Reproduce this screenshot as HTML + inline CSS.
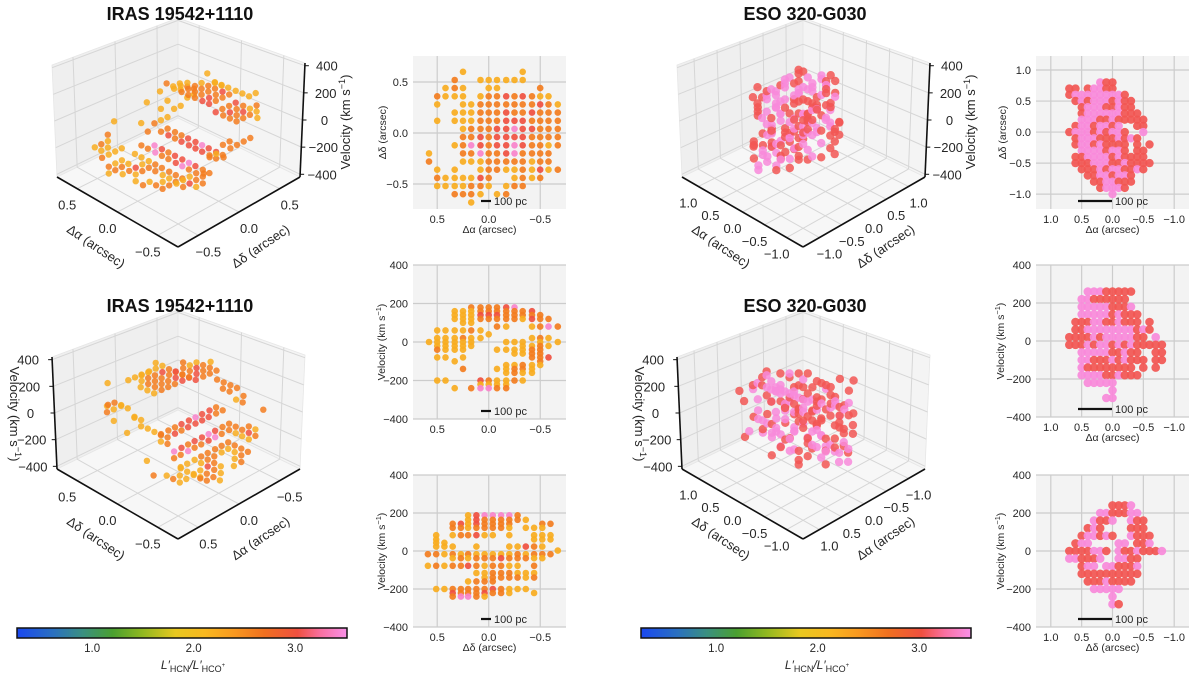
<!DOCTYPE html>
<html><head><meta charset="utf-8"><title>HCN/HCO+ ratio cubes</title>
<style>
html,body{margin:0;padding:0;background:#fff;}
svg{display:block;font-family:"Liberation Sans","DejaVu Sans",sans-serif;}
</style></head>
<body>
<svg id="fig" width="1200" height="677" viewBox="0 0 1200 677">
<defs>
<linearGradient id="cbgrad" x1="0" x2="1" y1="0" y2="0">
<stop offset="0" stop-color="#1a48f0"/><stop offset="0.11" stop-color="#2a70c0"/>
<stop offset="0.2" stop-color="#3a9080"/><stop offset="0.29" stop-color="#4aa030"/>
<stop offset="0.38" stop-color="#90b820"/><stop offset="0.48" stop-color="#e8c820"/>
<stop offset="0.57" stop-color="#f8b820"/><stop offset="0.66" stop-color="#f89820"/>
<stop offset="0.75" stop-color="#f07020"/><stop offset="0.85" stop-color="#f05040"/>
<stop offset="0.92" stop-color="#f870a0"/><stop offset="1" stop-color="#f890e8"/>
</linearGradient>
</defs>
</svg>
<script>
// ---------- colormap ----------
const cmapValues = [0.25,0.6,0.9,1.2,1.5,1.8,2.1,2.4,2.7,3.0,3.25,3.5];
const cmapColors = ['#1a48f0','#2a70c0','#3a9080','#4aa030','#90b820','#e8c820','#f8b820','#f89820','#f07020','#f05040','#f870a0','#f890e8'];

// ---------- IRAS 19542+1110 data ----------
const irasCodes = ['o','d','r','p'];
const irasRatios = [2.2,2.6,3.0,3.4];
const irasMapAlpha = [0.58,0.5,0.42,0.33,0.25,0.17,0.08,0.0,-0.08,-0.17,-0.25,-0.33,-0.42,-0.5,-0.58,-0.67];
const irasMapDelta = [0.6,0.52,0.44,0.36,0.28,0.2,0.12,0.04,-0.04,-0.12,-0.2,-0.28,-0.36,-0.44,-0.52,-0.6,-0.68];
const irasMapRows = [
"....o......o....",
"...d..oooooo....",
"..odo..oo....d..",
".dooo.oddrdrdoo.",
".o..oodddddddrdo",
"...ooodddrddrddd",
".o.ooodddrrrdddd",
"....odddrrprrddd",
"....ddrdrrrrdddd",
"...odprdrrprddod",
"o...ddpddrpdddd.",
"d...ooodddddodd.",
".o.o..oddoodorod",
".doooord..odod..",
".ooooddo.odd....",
"...dddo.od......",
".....o.........."];
const irasVelCodes = ['a','b','c','d','e','f','g','h','i','j','k'];
const irasVelValues = [180,140,100,60,20,-20,-60,-100,-140,-180,-220];
const irasVelRows = [
"eeeebbbbbbbbbbbb",
"eeeebbbbbbbbbbbb",
"ddddeaaaaaabbbbb",
"ddddeaaaaaabbbbb",
"eeeefaaaaaabbbbb",
"eeeefaaaaaabbbbe",
"ffffgaaaaaabbbbe",
"ffffghhhhhhhhhee",
"ggggghhhhhhhhhee",
"gggghjjjjjjjjjff",
"hhhhjjjjjjjjjjff",
"jjjjkkkkkkkkjjjg",
"jjjjkkkkkkkkjjjg",
"jjjjkkkkkkkkjjjg",
"jjjjkkkkkkkkjjjg",
"jjjjkkkkkkkkjjjg",
"jjjjkkkkkkkkjjjg"];
const irasPvAlpha = [0.58,0.5,0.42,0.33,0.25,0.17,0.08,0.0,-0.08,-0.17,-0.25,-0.33,-0.42,-0.5,-0.58,-0.67];
const irasPvVel = [180,160,140,120,100,80,60,40,20,0,-20,-40,-60,-80,-100,-120,-140,-160,-200,-220,-240];
const irasPvRows = [
".....ddddrp.....",
"...oooddddddr...",
"...ooorrrddddd..",
"...ooodddddordd.",
"....oo..........",
"........do..odpd",
".oooodo.........",
".......o........",
".ooodoo.....odo.",
"oooooo...ooo.o.o",
".ooooo.....oodo.",
".dooo...oooodd..",
"..........oodd..",
".oo.o.......ddr.",
"...o.........d..",
".........oodoo..",
"....d...ooddo...",
".........odoo...",
".oo...rdoodo....",
"......oooo......",
"...o.dppdd......"];
const irasPdDelta = [0.59,0.51,0.43,0.35,0.27,0.2,0.12,0.04,-0.04,-0.12,-0.2,-0.28,-0.36,-0.44,-0.52,-0.6,-0.67];
const irasPdVel = [188,164,143,122,83,61,43,23,2,-17,-38,-78,-116,-140,-160,-200,-221,-240];
const irasPdRows = [
".....orppppd.....",
".....ordddddo....",
"...drordddd...dd.",
"...ddoddddo.ooo..",
".o.oddroo.o..ooo.",
".o...........ooo.",
".oo..............",
".ooo..o...oordo..",
"................o",
"ddododooooododdd.",
"...ododddrdddoo..",
"ododdrdoddoo.d...",
"......oodddooo...",
".......oddddod...",
".....oddd........",
".oodddddrdooo....",
"...rdddrddo..o...",
"...dppdo........."];

// ---------- ESO 320-G030 data ----------
const esoCodes = ['r','p'];
const esoRatios = [3.05,3.45];
const esoMapAlpha = [0.8,0.7,0.6,0.5,0.4,0.3,0.2,0.1,0.0,-0.1,-0.2,-0.3,-0.4,-0.5,-0.6,-0.7,-0.8];
const esoMapDelta = [0.8,0.7,0.6,0.5,0.4,0.3,0.2,0.1,0.0,-0.1,-0.2,-0.3,-0.4,-0.5,-0.6,-0.7,-0.8,-0.9,-1.0];
const esoMapRows = [
"......prr........",
".rr.rpprr........",
".rppppppppr......",
"..rprppprprr.....",
"...rppprrprr.....",
"...rpppppprrr....",
"...ppprrprrrrr...",
"..rpprpprp..rr...",
".rppprprppr..p...",
"..rppprrrprpr....",
"..rpprprrrr.r.r..",
"...pppprppr.rr...",
"..rrpppprprrrr...",
"..rrrppprrprrrr..",
"...rrrprpprrpr...",
"....rrpprppr.....",
".....rrpprrr.....",
"......rpppr......",
"........p........"];
const esoVelCodes = ['a','b','c','d','e','f','g','h','i'];
const esoVelValues = [240,180,120,60,0,-60,-120,-180,-240];
const esoVelRows = [
"bagbhafbgahbfgabh",
"gbhafbgahbfgabhag",
"acgbfhabgcfbhagbf",
"fbacgbhcafbgdhbaf",
"bgcafhbdgacfbhgab",
"hafbcgbfdhacgbfha",
"cbgafbhcgbdafhcbg",
"gfbahcbgfadhbgcfb",
"bhcfagbdfhbgacfgb",
"fcgbhadfbgchbfagd",
"agbfchbgdfahcbgfh",
"hbfgacbhfgdbcagfb",
"cgahbfgcbhafdgbhc",
"gbhcfagbhdcfgbahf",
"fhbgcahfgbdhcfgbh",
"bgfhacgbfhgdbhcfg",
"hcgbfhagcbhfgdbhf",
"gfhbcgfhbgcfhbgfh",
"hgfbhgcfhgbfhgcfg"];
const esoPvAlpha = [0.8,0.7,0.6,0.5,0.4,0.3,0.2,0.1,0.0,-0.1,-0.2,-0.3,-0.4,-0.5,-0.6,-0.7,-0.8];
const esoPvVel = [260,220,180,140,100,60,20,-20,-60,-100,-140,-180,-220,-260,-300];
const esoPvRows = [
"....ppprrrrr.....",
"...pprrrrrr......",
"...ppppprrrp.....",
"...ppppprprrr....",
"..rrrpprrprrr.r..",
"..rrpppppppprpr..",
".rrrrprppppprr.p.",
".rrrprpprprprrrrr",
"...ppppprrprr..rr",
"...pprrrprprrr.rr",
"...prrrrrrrr.r.r.",
"...pppprrprrr....",
"....ppppp........",
"........p........",
".......pp........"];
const esoPdDelta = [0.8,0.7,0.6,0.5,0.4,0.3,0.2,0.1,0.0,-0.1,-0.2,-0.3,-0.4,-0.5,-0.6,-0.7,-0.8,-0.9];
const esoPdVel = [240,200,160,120,80,40,0,-40,-80,-120,-160,-200,-240,-280];
const esoPdRows = [
"........rrrp......",
"......pprrrpp.....",
".....prrp..prr....",
"....rpr....rrr....",
"...rpprpr..prrr...",
"..rpp....pp.rrp...",
".rrrrppr.prrprrrp.",
".pprrrp..pprr.....",
"...rpp.pprrrp.....",
"...rrrrrrrrrr.....",
"....rrrprrrr......",
".....ppppp........",
"........p.........",
"........pr........"];

// ---------- tick label arrays ----------
const irasPosTicks = [0.5,0.0,-0.5];
const esoPosTicks = [1.0,0.5,0.0,-0.5,-1.0];
const velTicks = [400,200,0,-200,-400];
const cbTicks = [1.0,2.0,3.0];

// ---------- helpers ----------
const NS='http://www.w3.org/2000/svg';
const svg=document.getElementById('fig');
function mk(tag,parent){const e=document.createElementNS(NS,tag);parent.appendChild(e);return e;}
function at(e,o){for(const k in o)e.setAttribute(k,o[k]);return e;}
function hex(h){return [parseInt(h.slice(1,3),16),parseInt(h.slice(3,5),16),parseInt(h.slice(5,7),16)];}
function cmap(v){
  if(v<=cmapValues[0])return cmapColors[0];
  for(let i=1;i<cmapValues.length;i++){
    if(v<=cmapValues[i]){const f=(v-cmapValues[i-1])/(cmapValues[i]-cmapValues[i-1]);
      const a=hex(cmapColors[i-1]),b=hex(cmapColors[i]);
      return 'rgb('+a.map((x,k)=>Math.round(x+(b[k]-x)*f)).join(',')+')';}
  }
  return cmapColors[cmapColors.length-1];
}
function fmtPos(n){return n===0?'0.0':(n<0?'\u2212':'')+Math.abs(n).toFixed(1);}
function fmtVel(n){return (n<0?'\u2212':'')+Math.abs(n);}
function gridPts(rows,xs,ys,codes,ratios){
  const out=[];
  rows.forEach((row,i)=>{for(let j=0;j<row.length;j++){const k=codes.indexOf(row[j]);
    if(k>=0&&j<xs.length)out.push({x:xs[j],y:ys[i],r:ratios[k],i:i,j:j});}});
  return out;
}
function text(parent,str,x,y,opt){
  const t=mk('text',parent);
  at(t,{x:x,y:y,'font-size':opt.size||11,fill:opt.fill||'#262626','text-anchor':opt.anchor||'middle'});
  if(opt.weight)t.setAttribute('font-weight',opt.weight);
  if(opt.rot!==undefined)t.setAttribute('transform','rotate('+opt.rot+' '+x+' '+y+')');
  t.textContent=str;return t;
}
function velTitle(parent,x,y,size,rot){
  const t=mk('text',parent);
  at(t,{x:x,y:y,'font-size':size,fill:'#262626','text-anchor':'middle',transform:'rotate('+rot+' '+x+' '+y+')'});
  t.appendChild(document.createTextNode('Velocity (km s'));
  const s=mk('tspan',t);at(s,{'baseline-shift':'super','font-size':size*0.7});s.textContent='\u22121';
  const s2=mk('tspan',t);s2.textContent=')';
  return t;
}

// ---------- 2D panel ----------
function panel2D(name,P,pts,rad){
  const g=mk('g',svg);
  
  
  const sx=v=>P.x0+(P.xl-v)/(P.xl-P.xr)*(P.x1-P.x0);
  const sy=v=>P.y0+(P.yt-v)/(P.yt-P.yb)*(P.y1-P.y0);
  const bg=mk('rect',g);
  at(bg,{x:P.x0,y:P.y0,width:P.x1-P.x0,height:P.y1-P.y0,fill:'#f3f3f3'});
  
  
  P.xticks.forEach(v=>{const l=mk('line',g);at(l,{x1:sx(v),x2:sx(v),y1:P.y0,y2:P.y1,stroke:'#cccccc','stroke-width':1.2});
    
    
    const t=text(g,fmtPos(v),sx(v),P.y1+14,{size:11});
    
    });
  P.yticks.forEach(v=>{const l=mk('line',g);at(l,{x1:P.x0,x2:P.x1,y1:sy(v),y2:sy(v),stroke:'#cccccc','stroke-width':1.2});
    
    
    const t=text(g,P.yfmt(v),P.x0-5,sy(v)+4,{size:11,anchor:'end'});
    
    });
  pts.forEach(p=>{const c=mk('circle',g);at(c,{cx:sx(p.x).toFixed(1),cy:sy(p.y).toFixed(1),r:rad,fill:cmap(p.r),'fill-opacity':0.92});
    
    });
  const sb=mk('line',g);at(sb,{x1:P.sb[0],x2:P.sb[1],y1:P.y1-8,y2:P.y1-8,stroke:'#111','stroke-width':2.2});
  
  
  const st=text(g,'100 pc',P.sb[1]+3,P.y1-4,{size:11,anchor:'start'});
  
  
  if(P.xtitle){const t=text(g,P.xtitle,(P.x0+P.x1)/2,P.y1+24,{size:10.5});
    
    }
  let yt;
  if(P.ytitle==='vel')yt=velTitle(g,P.ytx,(P.y0+P.y1)/2,10.5,-90);
  else yt=text(g,P.ytitle,P.ytx,(P.y0+P.y1)/2,{size:10.5,rot:-90});
  
  
}

// ---------- 3D panel ----------
const baseL=[57,177],baseF=[178,247],baseR=[300,177],baseB=[178,118];
const topL=[52,65],topF=[178,123],topR=[305,63],topB=[178,18];
function bil(A,Bq,C,D,s,t){return [A[0]*(1-s)*(1-t)+Bq[0]*s*(1-t)+C[0]*s*t+D[0]*(1-s)*t, A[1]*(1-s)*(1-t)+Bq[1]*s*(1-t)+C[1]*s*t+D[1]*(1-s)*t];}
function proj(ox,oy,s,t,c){const f=bil(baseL,baseF,baseR,baseB,s,t),u=bil(topL,topF,topR,topB,s,t);
  return [ox+f[0]+(u[0]-f[0])*c, oy+f[1]+(u[1]-f[1])*c];}
function panel3D(name,o){
  const g=mk('g',svg);
  
  
  const P=(s,t,c)=>proj(o.ox,o.oy,s,t,c);
  const poly=(pts,fill,nm)=>{const p=mk('polygon',g);at(p,{points:pts.map(q=>q.map(v=>v.toFixed(1)).join(',')).join(' '),fill:fill,stroke:'#e6e6e6','stroke-width':0.8});
    
    };
  poly([P(0,0,0),P(0,1,0),P(0,1,1),P(0,0,1)],'#efefef','left-pane');
  poly([P(0,1,0),P(1,1,0),P(1,1,1),P(0,1,1)],'#f4f4f4','right-pane');
  poly([P(0,0,0),P(1,0,0),P(1,1,0),P(0,1,0)],'#f7f7f7','floor-pane');
  const A=o.A, vc=v=>(v+420)/840;
  const gl=(a,b,nm)=>{const l=mk('line',g);at(l,{x1:a[0],y1:a[1],x2:b[0],y2:b[1],stroke:'#d6d6d6','stroke-width':1});
    
    };
  const sOf=v=>(A-v)/(2*A);
  const tOf=v=>o.tPos?(v+A)/(2*A):(A-v)/(2*A);
  o.ticks.forEach(v=>{const s=sOf(v),t=tOf(v);
    gl(P(s,0,0),P(s,1,0),'floor-gridline');gl(P(s,1,0),P(s,1,1),'wall-gridline');
    gl(P(0,t,0),P(1,t,0),'floor-gridline');gl(P(0,t,0),P(0,t,1),'wall-gridline');});
  velTicks.forEach(v=>{const c=vc(v);gl(P(0,0,c),P(0,1,c),'wall-gridline');gl(P(0,1,c),P(1,1,c),'wall-gridline');});
  const pts=o.pts.map(p=>{const s=sOf(p.a1),t=tOf(p.a2);return {s:s,t:t,c:vc(p.v),r:p.r};})
    .sort((a,b)=>(a.s+a.t)-(b.s+b.t));
  pts.forEach(p=>{const q=P(p.s,p.t,p.c);const c=mk('circle',g);
    at(c,{cx:q[0].toFixed(1),cy:q[1].toFixed(1),r:o.rad,fill:cmap(p.r),'fill-opacity':0.85});
    
    });
  const ax=(a,b,nm)=>{const l=mk('line',g);at(l,{x1:a[0],y1:a[1],x2:b[0],y2:b[1],stroke:'#111','stroke-width':1.6});
    
    };
  ax(P(0,0,0),P(1,0,0),'axis1-line');ax(P(1,0,0),P(1,1,0),'axis2-line');
  if(o.zAtLeft)ax(P(0,0,0),P(0,0,1),'velocity-axis-line');
  else ax(P(1,1,0),P(1,1,1),'velocity-axis-line');
  o.ticks.forEach(v=>{
    const a=P(sOf(v),0,0);
    const t1=text(g,fmtPos(v),a[0]-10,a[1]+21,{size:13});
    
    
    const b=P(1,tOf(v),0);
    const t2=text(g,fmtPos(v),b[0]+10,b[1]+21,{size:13});
    
    });
  const m1=P(0.5,0,0),m2=P(1,0.5,0);
  const at1=text(g,o.title1,m1[0]-24,m1[1]+38,{size:13,rot:34});
  
  
  const at2=text(g,o.title2,m2[0]+24,m2[1]+38,{size:13,rot:-34});
  
  
  velTicks.forEach(v=>{const q=o.zAtLeft?P(0,0,vc(v)):P(1,1,vc(v));
    const tk=mk('line',g);at(tk,{x1:q[0],y1:q[1],x2:q[0]+(o.zAtLeft?-4:4),y2:q[1],stroke:'#111','stroke-width':1});
    
    
    const t=text(g,fmtVel(v),o.zAtLeft?q[0]-24:q[0]+22,q[1]+5,{size:13});
    
    });
  const zt=o.zAtLeft?velTitle(g,o.ox+10,o.oy+122,13,90):velTitle(g,o.ox+350,o.oy+122,13,-90);
  
  
  const tt=text(g,o.name,o.ox+180,o.oy+20,{size:18,weight:'bold',fill:'#111'});
  
  
}

// ---------- build ----------
function cube(mapRows,velRows,alphas,deltas,codes,ratios,vcodes,vvals){
  const out=[];
  mapRows.forEach((row,i)=>{for(let j=0;j<row.length;j++){const k=codes.indexOf(row[j]);if(k<0||j>=alphas.length)continue;
    const vk=vcodes.indexOf((velRows[i]||'')[j]);if(vk<0)continue;
    out.push({alpha:alphas[j],delta:deltas[i],v:vvals[vk],r:ratios[k]});}});
  return out;
}
const irasCube=cube(irasMapRows,irasVelRows,irasMapAlpha,irasMapDelta,irasCodes,irasRatios,irasVelCodes,irasVelValues);
const esoCube=cube(esoMapRows,esoVelRows,esoMapAlpha,esoMapDelta,esoCodes,esoRatios,esoVelCodes,esoVelValues);

panel3D('iras-cube-view-a',{ox:0,oy:0,A:0.75,ticks:irasPosTicks,tPos:true,rad:3.2,name:'IRAS 19542+1110',
  title1:'\u0394\u03b1 (arcsec)',title2:'\u0394\u03b4 (arcsec)',pts:irasCube.map(p=>({a1:p.alpha,a2:p.delta,v:p.v,r:p.r}))});
panel3D('iras-cube-view-b',{ox:0,oy:292,A:0.75,ticks:irasPosTicks,tPos:false,rad:3.2,zAtLeft:true,name:'IRAS 19542+1110',
  title1:'\u0394\u03b4 (arcsec)',title2:'\u0394\u03b1 (arcsec)',pts:irasCube.map(p=>({a1:p.delta,a2:p.alpha,v:p.v,r:p.r}))});
panel3D('eso-cube-view-a',{ox:625,oy:0,A:1.37,ticks:esoPosTicks,tPos:true,rad:4.2,name:'ESO 320-G030',
  title1:'\u0394\u03b1 (arcsec)',title2:'\u0394\u03b4 (arcsec)',pts:esoCube.map(p=>({a1:p.alpha,a2:p.delta,v:p.v,r:p.r}))});
panel3D('eso-cube-view-b',{ox:625,oy:292,A:1.37,ticks:esoPosTicks,tPos:false,rad:4.2,zAtLeft:true,name:'ESO 320-G030',
  title1:'\u0394\u03b4 (arcsec)',title2:'\u0394\u03b1 (arcsec)',pts:esoCube.map(p=>({a1:p.delta,a2:p.alpha,v:p.v,r:p.r}))});

const irasX={x0:413,x1:566,xl:0.735,xr:-0.75,xticks:irasPosTicks,sb:[481,491]};
panel2D('iras-map-panel',Object.assign({},irasX,{y0:56,y1:209,yt:0.755,yb:-0.745,yticks:irasPosTicks,yfmt:fmtPos,xtitle:'\u0394\u03b1 (arcsec)',ytitle:'\u0394\u03b4 (arcsec)',ytx:386}),
  gridPts(irasMapRows,irasMapAlpha,irasMapDelta,irasCodes,irasRatios),3.3);
panel2D('iras-alpha-velocity-panel',Object.assign({},irasX,{y0:265,y1:419,yt:400,yb:-400,yticks:velTicks,yfmt:fmtVel,ytitle:'vel',ytx:385}),
  gridPts(irasPvRows,irasPvAlpha,irasPvVel,irasCodes,irasRatios),3.3);
panel2D('iras-delta-velocity-panel',Object.assign({},irasX,{y0:475,y1:627,yt:400,yb:-400,yticks:velTicks,yfmt:fmtVel,xtitle:'\u0394\u03b4 (arcsec)',ytitle:'vel',ytx:385}),
  gridPts(irasPdRows,irasPdDelta,irasPdVel,irasCodes,irasRatios),3.3);

const esoX={x0:1036,x1:1189,xl:1.24,xr:-1.24,xticks:esoPosTicks,sb:[1078,1112]};
panel2D('eso-map-panel',Object.assign({},esoX,{y0:56,y1:209,yt:1.226,yb:-1.24,yticks:esoPosTicks,yfmt:fmtPos,xtitle:'\u0394\u03b1 (arcsec)',ytitle:'\u0394\u03b4 (arcsec)',ytx:1006}),
  gridPts(esoMapRows,esoMapAlpha,esoMapDelta,esoCodes,esoRatios),4.2);
panel2D('eso-alpha-velocity-panel',Object.assign({},esoX,{y0:265,y1:417,yt:400,yb:-400,yticks:velTicks,yfmt:fmtVel,xtitle:'\u0394\u03b1 (arcsec)',ytitle:'vel',ytx:1004}),
  gridPts(esoPvRows,esoPvAlpha,esoPvVel,esoCodes,esoRatios),4.3);
panel2D('eso-delta-velocity-panel',Object.assign({},esoX,{y0:475,y1:627,yt:400,yb:-400,yticks:velTicks,yfmt:fmtVel,xtitle:'\u0394\u03b4 (arcsec)',ytitle:'vel',ytx:1004}),
  gridPts(esoPdRows,esoPdDelta,esoPdVel,esoCodes,esoRatios),4.3);

// ---------- colorbars ----------
function colorbar(name,x0){
  const g=mk('g',svg);
  
  
  const w=330,vmin=0.26,vmax=3.51;
  const r=mk('rect',g);at(r,{x:x0,y:628,width:w,height:10,fill:'url(#cbgrad)',stroke:'#111','stroke-width':1.5});
  
  
  cbTicks.forEach(v=>{const x=x0+(v-vmin)/(vmax-vmin)*w;
    const t=text(g,v.toFixed(1),x,652,{size:11.5});
    
    });
  const t=mk('text',g);at(t,{x:x0+176,y:669,'font-size':12,fill:'#262626','text-anchor':'middle'});
  
  
  const a=mk('tspan',t);at(a,{'font-style':'italic'});a.textContent='L\u2032';
  const b=mk('tspan',t);at(b,{'font-size':9,dy:3});b.textContent='HCN';
  const c=mk('tspan',t);at(c,{'font-style':'italic',dy:-3});c.textContent='/L\u2032';
  const d=mk('tspan',t);at(d,{'font-size':9,dy:3});d.textContent='HCO';
  const e=mk('tspan',t);at(e,{'font-size':6,dy:-5});e.textContent='+';
}
colorbar('colorbar-left',17);
colorbar('colorbar-right',641);
</script>
</body></html>
